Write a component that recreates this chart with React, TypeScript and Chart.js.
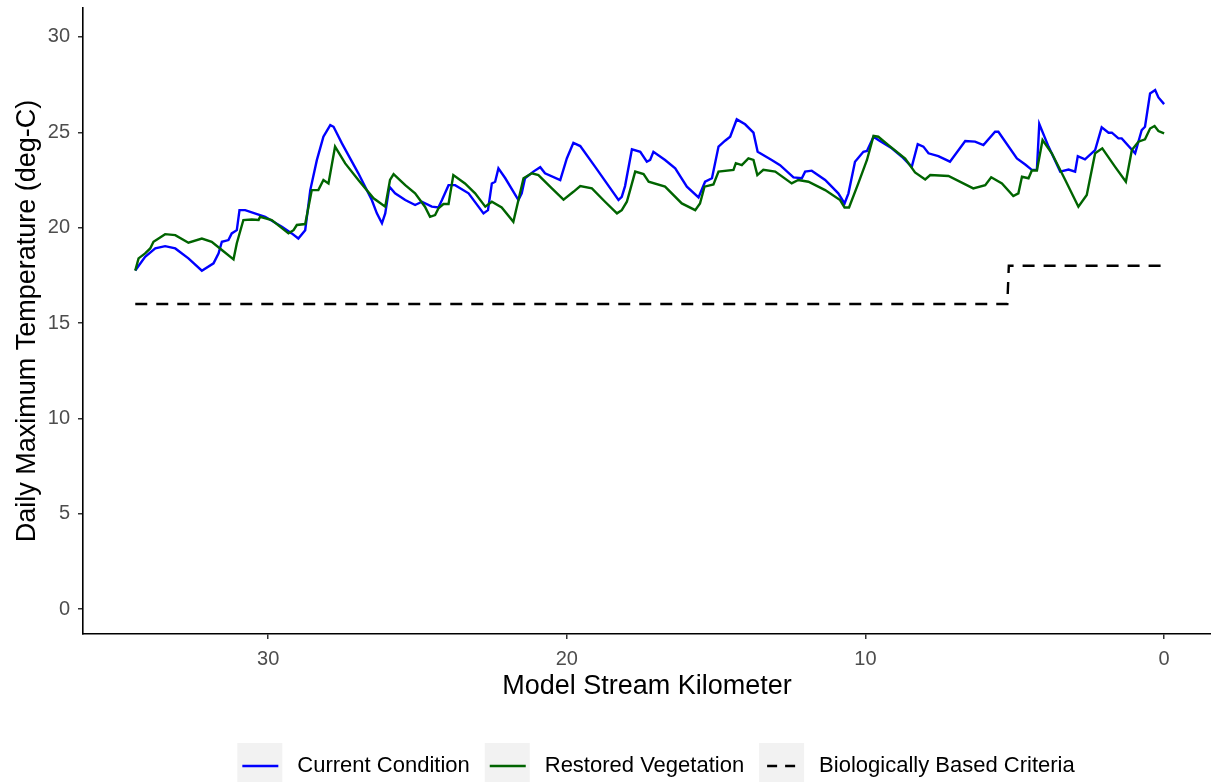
import React, { useEffect, useRef } from "react";
import { Chart, registerables } from "chart.js";

Chart.register(...registerables);

// [model stream km, daily maximum temperature (deg-C)]
const currentCondition: [number, number][] = [
  [34.45, 17.75], [34.12, 18.47], [33.78, 18.91], [33.45, 19.03], [33.11, 18.91], [32.67, 18.39],
  [32.22, 17.74], [31.83, 18.13], [31.66, 18.65], [31.55, 19.26], [31.33, 19.35], [31.22, 19.7],
  [31.05, 19.87], [30.96, 20.92], [30.77, 20.92], [30.1, 20.57], [29.54, 20.05], [29.21, 19.7],
  [28.99, 19.43], [28.76, 19.87], [28.59, 21.97], [28.37, 23.54], [28.15, 24.77], [27.92, 25.38],
  [27.81, 25.29], [27.53, 24.42], [26.98, 22.85], [26.53, 21.45], [26.36, 20.75], [26.19, 20.23],
  [26.08, 20.75], [25.94, 22.15], [25.75, 21.8], [25.41, 21.45], [25.08, 21.19], [24.85, 21.36],
  [24.52, 21.1], [24.3, 21.06], [24.18, 21.45], [23.96, 22.23], [23.74, 22.23], [23.29, 21.8],
  [22.79, 20.75], [22.64, 20.92], [22.51, 22.32], [22.4, 22.41], [22.29, 23.11], [22.06, 22.59],
  [21.62, 21.45], [21.51, 21.8], [21.4, 22.59], [21.12, 22.94], [20.89, 23.17], [20.73, 22.85],
  [20.22, 22.5], [20.0, 23.63], [19.78, 24.45], [19.55, 24.28], [19.05, 23.19], [18.27, 21.45],
  [18.16, 21.62], [18.05, 22.18], [17.82, 24.11], [17.54, 23.98], [17.32, 23.46], [17.21, 23.55],
  [17.1, 23.98], [16.71, 23.55], [16.37, 23.11], [15.98, 22.15], [15.59, 21.59], [15.37, 22.41],
  [15.14, 22.59], [14.92, 24.25], [14.7, 24.56], [14.53, 24.77], [14.31, 25.68], [14.03, 25.42],
  [13.75, 24.98], [13.61, 23.98], [13.14, 23.55], [12.86, 23.28], [12.41, 22.64], [12.13, 22.59],
  [12.02, 22.94], [11.8, 22.99], [11.35, 22.5], [10.91, 21.8], [10.7, 21.27], [10.57, 21.8],
  [10.35, 23.46], [10.07, 23.98], [9.95, 24.02], [9.73, 24.77], [9.57, 24.6], [9.12, 24.16],
  [8.78, 23.72], [8.45, 23.19], [8.25, 24.38], [8.06, 24.25], [7.89, 23.9], [7.56, 23.75],
  [7.17, 23.46], [6.66, 24.54], [6.33, 24.51], [6.05, 24.33], [5.66, 25.03], [5.55, 25.03],
  [4.93, 23.63], [4.65, 23.31], [4.43, 23.03], [4.26, 23.03], [4.18, 25.44], [3.87, 24.25],
  [3.48, 22.94], [3.2, 23.05], [2.98, 22.94], [2.89, 23.75], [2.65, 23.58], [2.31, 24.07],
  [2.09, 25.26], [1.86, 24.98], [1.75, 24.98], [1.53, 24.68], [1.42, 24.68], [0.97, 23.9],
  [0.75, 25.12], [0.64, 25.29], [0.47, 27.04], [0.3, 27.22], [0.19, 26.83], [0.0, 26.48],
];

const restoredVegetation: [number, number][] = [
  [34.45, 17.75], [34.34, 18.39], [34.12, 18.65], [33.95, 18.91], [33.84, 19.26], [33.67, 19.43],
  [33.45, 19.66], [33.11, 19.61], [32.67, 19.21], [32.22, 19.43], [31.89, 19.26], [31.55, 18.83],
  [31.16, 18.34], [31.05, 19.18], [30.83, 20.4], [30.55, 20.43], [30.32, 20.4], [30.27, 20.57],
  [29.88, 20.4], [29.32, 19.7], [29.15, 19.87], [29.04, 20.14], [28.76, 20.19], [28.54, 21.97],
  [28.32, 21.97], [28.15, 22.5], [27.98, 22.32], [27.76, 24.25], [27.42, 23.37], [26.98, 22.5],
  [26.47, 21.54], [26.08, 21.1], [25.92, 22.5], [25.8, 22.81], [25.41, 22.23], [25.08, 21.8],
  [24.75, 21.1], [24.58, 20.57], [24.41, 20.66], [24.3, 21.01], [24.13, 21.24], [23.96, 21.24],
  [23.8, 22.76], [23.41, 22.32], [23.07, 21.8], [22.73, 21.1], [22.51, 21.36], [22.18, 21.06],
  [21.79, 20.31], [21.62, 21.45], [21.45, 22.59], [21.17, 22.85], [20.95, 22.76], [20.5, 22.06],
  [20.11, 21.47], [19.78, 21.88], [19.55, 22.18], [19.16, 22.06], [18.72, 21.36], [18.32, 20.75],
  [18.16, 20.92], [17.99, 21.36], [17.88, 21.97], [17.71, 22.94], [17.43, 22.81], [17.26, 22.41],
  [16.71, 22.15], [16.15, 21.27], [15.7, 20.92], [15.54, 21.27], [15.39, 22.15], [15.09, 22.27],
  [14.92, 22.94], [14.42, 23.03], [14.34, 23.38], [14.14, 23.28], [13.92, 23.63], [13.75, 23.55],
  [13.62, 22.76], [13.42, 23.03], [13.02, 22.94], [12.47, 22.32], [12.25, 22.5], [11.91, 22.41],
  [11.35, 21.97], [10.85, 21.45], [10.7, 21.06], [10.55, 21.06], [10.24, 22.32], [9.95, 23.55],
  [9.73, 24.81], [9.57, 24.77], [9.23, 24.33], [8.67, 23.62], [8.34, 22.9], [8.0, 22.53],
  [7.83, 22.76], [7.22, 22.71], [6.39, 22.06], [5.99, 22.23], [5.79, 22.64], [5.43, 22.32],
  [5.05, 21.66], [4.88, 21.8], [4.76, 22.67], [4.54, 22.59], [4.43, 23.0], [4.26, 23.0],
  [4.07, 24.6], [3.76, 23.9], [3.31, 22.5], [2.87, 21.1], [2.59, 21.71], [2.31, 23.9],
  [2.07, 24.16], [1.64, 23.19], [1.28, 22.41], [1.08, 24.07], [0.86, 24.51], [0.64, 24.63],
  [0.47, 25.2], [0.32, 25.33], [0.19, 25.07], [0.0, 24.94],
];

const biologicalCriteria: [number, number][] = [
  [34.45, 16], [5.25, 16], [5.2, 18], [0.0, 18],
];

const seriesLabels = ["Current Condition", "Restored Vegetation", "Biologically Based Criteria"];
const seriesColors = ["#0000FF", "#006400", "#000000"];
const xTicks = [30, 20, 10, 0];
const yTicks = [0, 5, 10, 15, 20, 25, 30];

const FONT = '"Liberation Sans", Arial, Helvetica, sans-serif';

const toXY = (arr: [number, number][]) => arr.map(([x, y]) => ({ x, y }));

const legendPlugin = {
  id: "ggLegend",
  afterDraw(chart: any) {
    const ctx: CanvasRenderingContext2D = chart.ctx;
    ctx.save();
    ctx.font = `22px ${FONT}`;
    const boxW = 45;
    const gapText = 15;
    const gapItem = 15;
    const widths = seriesLabels.map((t) => ctx.measureText(t).width);
    const total =
      widths.reduce((a, w) => a + boxW + gapText + w, 0) + gapItem * (seriesLabels.length - 1);
    let x = 656 - total / 2;
    const top = 743;
    const bottom = chart.height;
    const lineY = 766;
    seriesLabels.forEach((label, i) => {
      ctx.fillStyle = "#F2F2F2";
      ctx.fillRect(x, top, boxW, bottom - top);
      ctx.beginPath();
      ctx.strokeStyle = seriesColors[i];
      ctx.lineWidth = 2.4;
      ctx.setLineDash(i === 2 ? [10, 8] : []);
      ctx.lineDashOffset = i === 2 ? -3 : 0;
      ctx.moveTo(x + 5, lineY);
      ctx.lineTo(x + boxW - 4, lineY);
      ctx.stroke();
      ctx.setLineDash([]);
      ctx.fillStyle = "#000000";
      ctx.textBaseline = "middle";
      ctx.textAlign = "left";
      ctx.fillText(label, x + boxW + gapText, lineY);
      x += boxW + gapText + widths[i] + gapItem;
    });
    ctx.restore();
  },
};

export default function App() {
  const canvasRef = useRef<HTMLCanvasElement | null>(null);

  useEffect(() => {
    if (!canvasRef.current) return;
    const chart = new Chart(canvasRef.current, {
      type: "line",
      data: {
        datasets: [
          {
            label: seriesLabels[0],
            data: toXY(currentCondition),
            borderColor: seriesColors[0],
            borderWidth: 2.4,
            pointRadius: 0,
            tension: 0,
            order: 3,
          },
          {
            label: seriesLabels[1],
            data: toXY(restoredVegetation),
            borderColor: seriesColors[1],
            borderWidth: 2.4,
            pointRadius: 0,
            tension: 0,
            order: 2,
          },
          {
            label: seriesLabels[2],
            data: toXY(biologicalCriteria),
            borderColor: seriesColors[2],
            borderWidth: 2.4,
            borderDash: [12, 9],
            pointRadius: 0,
            tension: 0,
            order: 1,
          },
        ],
      },
      options: {
        animation: false,
        responsive: false,
        maintainAspectRatio: false,
        layout: { padding: { top: 8, right: 0, bottom: 0, left: 0 } },
        plugins: { legend: { display: false }, tooltip: { enabled: false } },
        scales: {
          x: {
            type: "linear",
            reverse: true,
            min: -1.57,
            max: 36.2,
            afterBuildTicks: (s: any) => {
              s.ticks = xTicks.map((v) => ({ value: v }));
            },
            afterFit: (s: any) => {
              s.height = 148;
              s.paddingLeft = 0;
              s.paddingRight = 0;
            },
            ticks: {
              color: "#4D4D4D",
              font: { size: 20, family: FONT },
              padding: 8,
              maxRotation: 0,
              autoSkip: false,
            },
            grid: {
              drawOnChartArea: false,
              drawTicks: true,
              tickLength: 5,
              color: "#333333",
              lineWidth: 1.5,
            },
            border: { display: true, color: "#000000", width: 1.6 },
            title: {
              display: true,
              text: "Model Stream Kilometer",
              color: "#000000",
              font: { size: 27, family: FONT },
              padding: { top: 0, bottom: 79 },
            },
          },
          y: {
            type: "linear",
            min: -1.31,
            max: 31.52,
            afterBuildTicks: (s: any) => {
              s.ticks = yTicks.map((v) => ({ value: v }));
            },
            afterFit: (s: any) => {
              s.width = 83;
              s.paddingTop = 0;
              s.paddingBottom = 0;
            },
            ticks: {
              color: "#4D4D4D",
              font: { size: 20, family: FONT },
              padding: 8,
              autoSkip: false,
            },
            grid: {
              drawOnChartArea: false,
              drawTicks: true,
              tickLength: 5,
              color: "#333333",
              lineWidth: 1.5,
            },
            border: { display: true, color: "#000000", width: 1.6 },
            title: {
              display: true,
              text: "Daily Maximum Temperature (deg-C)",
              color: "#000000",
              font: { size: 27, family: FONT },
              padding: { top: 11, bottom: 0 },
            },
          },
        },
      },
      plugins: [legendPlugin],
    } as any);
    return () => chart.destroy();
  }, []);

  return (
    <div style={{ position: "absolute", left: 0, top: 0, width: 1211, height: 782, background: "#FFFFFF" }}>
      <canvas ref={canvasRef} width={1211} height={782} style={{ display: "block" }} />
    </div>
  );
}
